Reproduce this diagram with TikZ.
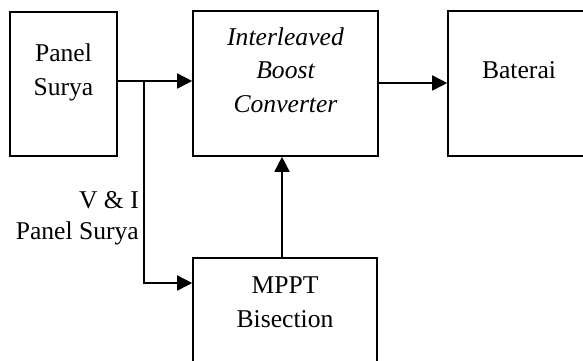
\documentclass[tikz,border=0pt]{standalone}
\usepackage{fontspec}
\setmainfont{Liberation Serif}
\usetikzlibrary{arrows.meta}
\begin{document}
\begin{tikzpicture}[x=1pt,y=1pt,
  blk/.style={draw,line width=1.6pt,inner sep=0pt},
  txt/.style={font=\fontsize{25.6}{34}\selectfont,align=center,inner sep=0pt,anchor=base},
  conn/.style={line width=1.6pt,-{Triangle[length=15pt,width=15pt]}}]
\path[use as bounding box,clip] (0,0) rectangle (583,-360);
% boxes
\node[blk,minimum width=107pt,minimum height=144pt] (ps) at (63.5,-84) {};
\node[blk,minimum width=185pt,minimum height=145pt] (ibc) at (285.5,-83.5) {};
\node[blk,minimum width=142pt,minimum height=145pt] (bat) at (519,-83.5) {};
\node[blk,minimum width=184pt,minimum height=145pt] (mppt) at (285,-330.5) {};
% texts
\node[txt] (tps) at (63.5,-95) {Panel\\Surya};
\node[txt,font=\fontsize{25.6}{33.5}\selectfont] (tibc) at (285.5,-112) {\itshape Interleaved\\\itshape Boost\\\itshape Converter};
\node[txt] (tbat) at (519,-78) {Baterai};
\node[txt] (tmppt) at (285,-327) {MPPT\\Bisection};
\node[font=\fontsize{25.6}{31}\selectfont,align=right,inner sep=0pt,anchor=base east] (lab) at (139,-239) {V \& I\\Panel Surya};
% connectors
\coordinate (j) at (144,-81);
\draw[conn] (ps.east |- j) -- (ibc.west |- j);
\draw[conn] (j) |- (mppt.west |- 0,-283);
\draw[conn] (ibc.east |- 0,-83) -- (bat.west |- 0,-83);
\draw[conn] (mppt.north -| 282,0) -- (ibc.south -| 282,0);
\end{tikzpicture}
\end{document}
